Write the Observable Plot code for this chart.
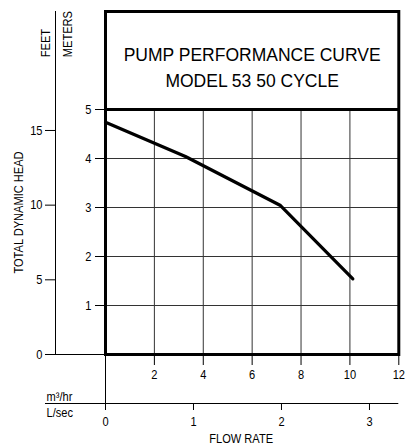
<!DOCTYPE html>
<html><head><meta charset="utf-8">
<script src="https://cdn.jsdelivr.net/npm/d3@7"></script>
<script src="https://cdn.jsdelivr.net/npm/@observablehq/plot@0.6"></script>
<style>html,body{margin:0;padding:0;background:#fff}</style>
</head><body><div id="chart"></div>
<script>
const titleLines = ["PUMP PERFORMANCE CURVE", "MODEL 53 50 CYCLE"];
const flowM3hr = [0, 3.27, 7.16, 10.12];
const headMeters = [4.74, 4.04, 3.04, 1.545];
const m3hrTicks = [2, 4, 6, 8, 10, 12];
const lsecTicks = [0, 1, 2, 3];
const meterTicks = [1, 2, 3, 4, 5];
const feetTicks = [0, 5, 10, 15];
const xGrid = [2, 4, 6, 8, 10];
const yGrid = [1, 2, 3, 4];

const M3HR_PER_LSEC = 3.6;
const M_PER_FT = 0.3048;
const OUTER_LEFT = -2.455; // x (m³/hr units) where the outer baselines start

const curve = flowM3hr.map((x, i) => ({x, y: headMeters[i]}));
const sans = "'Liberation Sans',Arial,sans-serif";
const fs = 13.5;

const chart = Plot.plot({
  width: 406, height: 445,
  marginLeft: 105, marginRight: 7.7, marginTop: 11, marginBottom: 91,
  style: {fontFamily: sans, fontSize: fs + "px", background: "white", color: "black", overflow: "visible"},
  x: {domain: [0, 12]},
  y: {domain: [0, 7]},
  marks: [
    Plot.ruleX(xGrid, {y1: 0, y2: 5, stroke: "#333", strokeWidth: 1}),
    Plot.ruleY(yGrid, {x1: 0, x2: 12, stroke: "#333", strokeWidth: 1}),
    Plot.line(curve, {x: "x", y: "y", stroke: "black", strokeWidth: 3.2}),
    // outer axis lines
    Plot.ruleX([0], {y1: 0, y2: 7, dx: -50, stroke: "black"}),
    Plot.ruleY([0], {x1: OUTER_LEFT, x2: 0, stroke: "black"}),
    Plot.ruleY([-1], {x1: OUTER_LEFT, x2: 12, stroke: "black"}),
    Plot.ruleX([0], {y1: -1, y2: 0, stroke: "black"}),
    // axes
    Plot.axisY(meterTicks, {anchor: "left", tickSize: 10, tickPadding: 4, label: null, fontSize: fs}),
    Plot.axisY(feetTicks.map(f => f * M_PER_FT), {anchor: "left", dx: -50, tickSize: 10, tickPadding: 3,
      tickFormat: d => Math.round(d / M_PER_FT), label: null, fontSize: fs}),
    Plot.axisX(m3hrTicks, {anchor: "bottom", tickSize: 11, tickPadding: 4, label: null, fontSize: fs}),
    Plot.axisX(lsecTicks.map(v => v * M3HR_PER_LSEC), {anchor: "bottom", dy: 49, tickSize: 7, tickPadding: 6,
      tickFormat: d => Math.round(d / M3HR_PER_LSEC), label: null, fontSize: fs}),
    // frame and title box
    Plot.frame({stroke: "black", strokeWidth: 3}),
    Plot.ruleY([5], {x1: 0, x2: 12, stroke: "black", strokeWidth: 3}),
    Plot.text([titleLines.join("\n")], {text: d => d, frameAnchor: "top", lineAnchor: "top", textAnchor: "middle",
      dy: 31.3, lineHeight: 26 / 17.5, fontSize: 17.5}),
    // labels
    Plot.text(["TOTAL DYNAMIC HEAD"], {text: d => d, frameAnchor: "left", rotate: -90, textAnchor: "middle",
      lineAnchor: "middle", dx: -87, dy: 29.5, fontSize: fs}),
    Plot.text(["FEET"], {text: d => d, frameAnchor: "top-left", rotate: -90, textAnchor: "start",
      lineAnchor: "middle", dx: -60.3, dy: 45.7, fontSize: fs}),
    Plot.text(["METERS"], {text: d => d, frameAnchor: "top-left", rotate: -90, textAnchor: "start",
      lineAnchor: "middle", dx: -37.8, dy: 45.7, fontSize: fs}),
    Plot.text(["m³/hr"], {text: d => d, frameAnchor: "bottom-left", textAnchor: "start",
      lineAnchor: "middle", dx: -59, dy: 41.7, fontSize: fs}),
    Plot.text(["L/sec"], {text: d => d, frameAnchor: "bottom-left", textAnchor: "start",
      lineAnchor: "middle", dx: -59, dy: 57.7, fontSize: fs}),
    Plot.text(["FLOW RATE"], {text: d => d, frameAnchor: "bottom", textAnchor: "middle",
      lineAnchor: "top", dx: -11, dy: 78.5, fontSize: fs})
  ]
});
document.getElementById("chart").appendChild(chart);
// the reference uses a narrow sans for the small labels: condense them horizontally
chart.querySelectorAll("text").forEach(t => {
  if (t.querySelector("tspan")) return; // the two-line title keeps its normal width
  const w = t.getComputedTextLength();
  if (w > 0) {
    t.setAttribute("textLength", (w * 0.82).toFixed(2));
    t.setAttribute("lengthAdjust", "spacingAndGlyphs");
  }
});
</script>
</body></html>
